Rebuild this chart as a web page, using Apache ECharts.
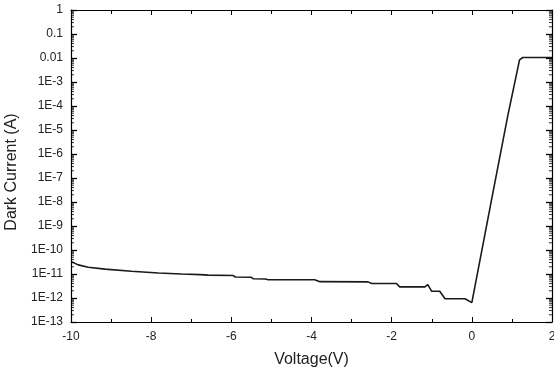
<!DOCTYPE html>
<html>
<head>
<meta charset="utf-8">
<script src="https://cdn.jsdelivr.net/npm/echarts@6/dist/echarts.min.js"></script>
<style>
html,body{margin:0;padding:0;background:#fff;}
#chart{width:554px;height:373px;}
</style>
</head>
<body>
<div id="chart"></div>
<script>
// Data
var voltage = [-10, -9.82, -9.57, -9.15, -8.49, -7.82, -7.24, -6.78, -6.58, -5.95, -5.9, -5.5, -5.45, -5.15, -5.08, -3.92, -3.79, -2.59, -2.50, -1.88, -1.80, -1.17, -1.10, -1.00, -0.80, -0.67, -0.17, 0.00, 0.49, 0.90, 1.19, 1.27, 2.0];
var darkCurrent = [3.3e-11, 2.4e-11, 1.9e-11, 1.6e-11, 1.3e-11, 1.1e-11, 1.0e-11, 9.4e-12, 9.0e-12, 8.6e-12, 7.5e-12, 7.3e-12, 6.3e-12, 6.2e-12, 5.8e-12, 5.8e-12, 4.8e-12, 4.7e-12, 4.0e-12, 4.0e-12, 2.9e-12, 2.9e-12, 3.6e-12, 1.9e-12, 1.9e-12, 9.3e-13, 9.3e-13, 6.4e-13, 1.2e-8, 4.2e-5, 8.3e-3, 1.05e-2, 1.05e-2];

// Tick labels
var xTickLabels = ['-10', '-8', '-6', '-4', '-2', '0', '2'];
var yTickLabels = ['1E-13', '1E-12', '1E-11', '1E-10', '1E-9', '1E-8', '1E-7', '1E-6', '1E-5', '1E-4', '1E-3', '0.01', '0.1', '1'];
var xMin = -10, xMax = 2;
var yMinExp = -13, yMaxExp = 0;

// Minor log tick positions (2..9 within each decade)
var minorTickValues = [];
for (var e = yMinExp; e < yMaxExp; e++) {
  for (var k = 2; k <= 9; k++) minorTickValues.push(k * Math.pow(10, e));
}

var seriesData = voltage.map(function (v, i) { return [v, darkCurrent[i]]; });
var leftMinor = minorTickValues.map(function (v) { return [xMin, v]; });
var rightMinor = minorTickValues.map(function (v) { return [xMax, v]; });

var font = 'Liberation Sans, Arial, sans-serif';
var chart = echarts.init(document.getElementById('chart'), null, {renderer: 'canvas'});

var axisLine = {show: true, onZero: false, lineStyle: {color: '#000', width: 1.2}};

chart.setOption({
  backgroundColor: '#fff',
  animation: false,
  grid: {left: 71, right: 2, top: 10, bottom: 51, containLabel: false, outerBoundsMode: 'none'},
  xAxis: [{
    type: 'value', min: xMin, max: xMax, interval: 2, position: 'bottom',
    axisLine: axisLine,
    axisTick: {show: true, inside: true, length: 5, lineStyle: {color: '#000', width: 1}},
    minorTick: {show: true, splitNumber: 2, length: 3, lineStyle: {color: '#000', width: 1}},
    splitLine: {show: false},
    axisLabel: {
      margin: 9, color: '#222', fontFamily: font, fontSize: 12,
      formatter: function (v) { return xTickLabels[Math.round((v - xMin) / 2)]; }
    },
    name: 'Voltage(V)', nameLocation: 'middle', nameGap: 30,
    nameTextStyle: {color: '#222', fontFamily: font, fontSize: 16}
  }, {
    type: 'value', min: xMin, max: xMax, interval: 2, position: 'top',
    axisLine: axisLine,
    axisTick: {show: true, inside: true, length: 5, lineStyle: {color: '#000', width: 1}},
    minorTick: {show: true, splitNumber: 2, length: 4, lineStyle: {color: '#000', width: 1}},
    splitLine: {show: false},
    axisLabel: {show: false}
  }],
  yAxis: [{
    type: 'log', logBase: 10, min: Math.pow(10, yMinExp), max: Math.pow(10, yMaxExp), interval: 1,
    position: 'left',
    axisLine: axisLine,
    axisTick: {show: true, inside: true, length: 6, lineStyle: {color: '#000', width: 1.3}},
    splitLine: {show: false},
    axisLabel: {
      margin: 8, color: '#222', fontFamily: font, fontSize: 12,
      formatter: function (v) { return yTickLabels[Math.round(Math.log10(v)) - yMinExp]; }
    },
    name: 'Dark Current (A)', nameLocation: 'middle', nameGap: 46,
    nameTextStyle: {color: '#222', fontFamily: font, fontSize: 16, padding: [0, 12, 0, 0]}
  }, {
    type: 'log', logBase: 10, min: Math.pow(10, yMinExp), max: Math.pow(10, yMaxExp), interval: 1,
    position: 'right',
    axisLine: axisLine,
    axisTick: {show: true, inside: true, length: 6, lineStyle: {color: '#000', width: 1.3}},
    splitLine: {show: false},
    axisLabel: {show: false}
  }],
  series: [{
    type: 'line', data: seriesData, xAxisIndex: 0, yAxisIndex: 0,
    showSymbol: false, symbol: 'none', smooth: false,
    lineStyle: {color: '#1a1a1a', width: 1.6}, z: 3
  }, {
    type: 'scatter', data: leftMinor, xAxisIndex: 0, yAxisIndex: 0,
    symbol: 'rect', symbolSize: [3, 1], symbolOffset: [1.5, 0],
    itemStyle: {color: '#000'}, silent: true, clip: false, z: 4
  }, {
    type: 'scatter', data: rightMinor, xAxisIndex: 0, yAxisIndex: 0,
    symbol: 'rect', symbolSize: [3, 1], symbolOffset: [-1.5, 0],
    itemStyle: {color: '#000'}, silent: true, clip: false, z: 4
  }]
});
</script>
</body>
</html>
